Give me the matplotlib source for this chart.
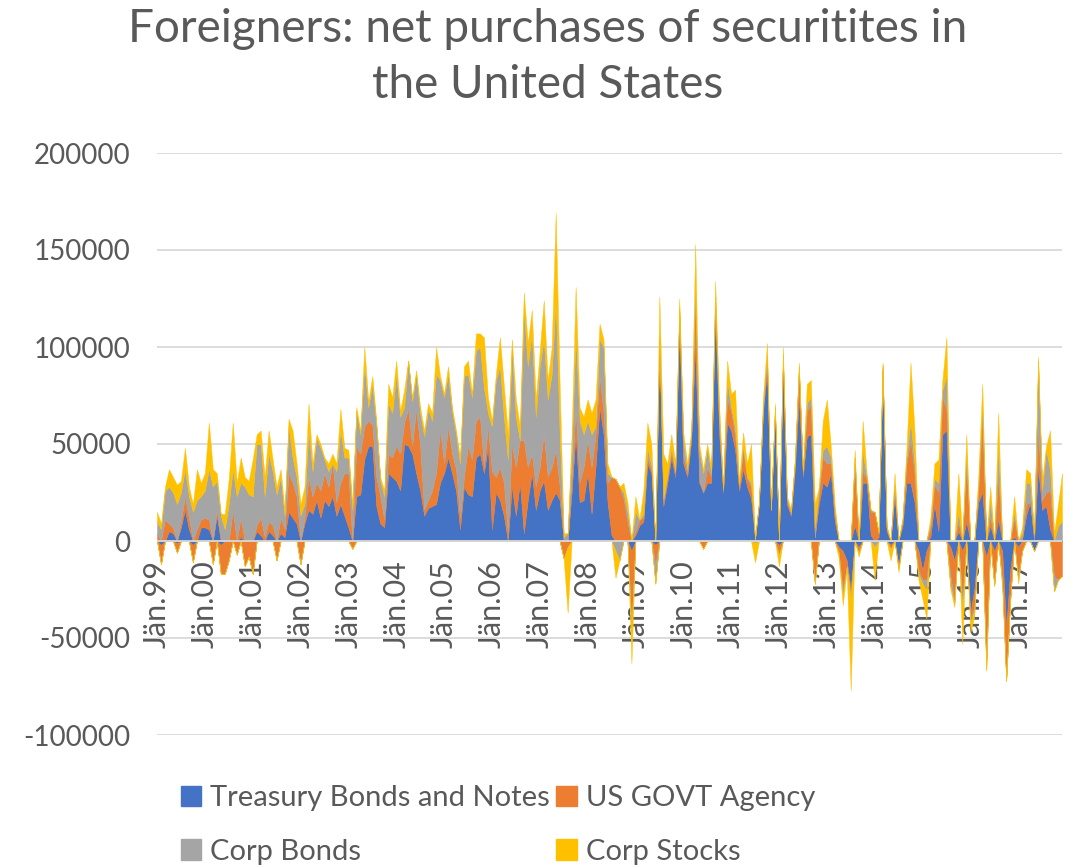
import matplotlib
matplotlib.use("Agg")
import matplotlib.pyplot as plt
from matplotlib.patches import Patch
import numpy as np

# monthly net purchases, thousands of USD mn, Jan 1999 - Dec 2017 (one row per year)
treasury = [
    0, -2, 0, 5, 4, -1, 7, 16, 6, -2, 0, 7,
    7, 6, 0, 13, -2, 0, 0, 0, 0, 2, 0, 0,
    0, 5, 3, 0, 5, 3, 0, 4, 2, 15, 12, 9,
    0, 9, 16, 14, 21, 12, 21, 18, 23, 13, 19, 13,
    7, 0, 23, 24, 42, 49, 49, 18, 9, 7, 35, 33,
    31, 26, 50, 49, 45, 35, 26, 13, 17, 18, 19, 30,
    35, 43, 35, 26, 6, 28, 24, 23, 43, 45, 35, 49,
    6, 25, 21, 13, 0, 28, 13, 30, 4, 21, 35, 16,
    26, 31, 16, 21, 25, 21, 0, 0, 25, 55, 20, 21,
    35, 14, 38, 69, 55, 20, 3, 0, 0, 0, 0, -5,
    3, 8, 10, 40, 35, -2, 100, 18, 30, 43, 33, 112,
    40, 33, 52, 100, 30, 25, 30, 30, 118, 55, 25, 61,
    57, 47, 26, 37, 28, 22, 1, 19, 66, 88, 16, 66,
    -2, 88, 19, 13, 37, 74, 33, 54, 55, 2, 19, 30,
    28, 35, 10, -3, -5, -10, -25, 8, -3, 30, 30, 3,
    0, 2, 88, 5, -2, 23, -12, 8, 30, 30, 20, -5,
    -15, -5, 2, 19, 5, 55, 57, -3, -10, 5, -5, 10,
    -37, -25, 20, 25, -8, 8, -5, 11, -5, -45, -15, 2,
    -3, 1, 13, 20, -5, 38, 16, 18, 6, 0, 0, 0,
]
agency = [
    4, -10, 11, 4, 3, -5, 3, 7, 6, -9, 6, 4,
    5, 5, -12, 3, -15, -17, -10, 16, -7, 10, -13, -8,
    -17, 3, 9, 2, 5, 5, -10, 8, 4, 20, 18, 14,
    -12, 3, 17, 9, 9, 14, 14, 10, 17, 7, 11, 22,
    28, -4, 26, 21, 17, 13, 11, 15, 14, 4, 10, 10,
    18, 19, 11, 19, 4, 33, 23, 3, 4, 8, 16, 27,
    5, 16, 10, 11, 6, 5, 25, 19, 19, 19, 3, 10,
    30, 8, 17, 17, 4, 22, 25, 22, 48, 17, 10, 12,
    12, 24, 17, 17, 22, 7, -9, -3, 5, 14, 10, 17,
    17, 24, 17, 16, 11, 10, 30, 32, 28, 22, 10, -38,
    2, 3, 2, 3, 2, -10, 3, 2, 2, 3, 2, 5,
    4, 2, 2, 26, 2, -4, 8, 3, 5, 5, 1, 12,
    10, 7, 2, 10, 4, 6, 0, 1, 2, 5, 0, 2,
    -5, 6, 2, 1, 3, 14, 2, 13, 15, -22, 5, 13,
    12, 5, 3, -3, -20, -3, -3, 32, -3, 6, 2, 12,
    15, 2, 1, 2, -2, 3, -2, 2, 10, 22, 15, -10,
    -5, -15, 5, 10, 20, 19, 11, -15, -20, 5, -25, 30,
    -3, -9, 5, 40, -55, 5, -18, 23, -15, -27, -15, 10,
    -15, -5, 6, 0, 2, 19, 5, 7, 20, -18, -20, -18,
]
corp_bonds = [
    6, 6, 15, 19, 18, 19, 15, 14, 11, 15, 15, 12,
    14, 26, 28, 15, 13, 6, 19, 21, 23, 18, 28, 24,
    23, 42, 38, 21, 35, 28, 24, 21, 7, 24, 13, 10,
    13, 7, 24, 13, 23, 22, 7, 8, 0, 16, 27, 8,
    8, 16, 18, 10, 32, 7, 21, 27, 8, 12, 26, 23,
    37, 19, 8, 25, 23, 18, 17, 38, 47, 36, 51, 26,
    34, 27, 22, 18, 28, 52, 37, 32, 36, 36, 41, 7,
    23, 50, 52, 34, 38, 50, 26, 0, 67, 52, 62, 36,
    52, 49, 40, 48, 77, 27, 2, 4, 15, 38, 32, 17,
    10, 17, 4, 19, 34, 5, 0, -5, -10, 3, 5, -2,
    10, 0, 2, 5, 2, -10, 2, 2, 2, 2, 1, 3,
    8, 2, 1, 5, 15, 10, 10, 2, 3, 3, 1, 10,
    2, 4, 1, 2, 1, 2, -1, 0, 1, 3, 0, 1,
    0, 2, 1, 1, 1, 2, 1, 4, 4, 5, 2, 4,
    9, 3, 2, 0, -3, 0, -2, 3, 0, 10, 1, 1,
    -3, 0, 2, 0, 0, 3, 0, 1, 3, 10, 5, -2,
    -2, -5, 2, 3, 5, 4, 17, -5, -2, 5, -5, 5,
    -2, -2, 3, 5, -3, 8, 0, 15, -2, 0, -1, 3,
    -2, 3, 11, 10, 1, 36, 5, 22, 11, -8, 8, 10,
]
corp_stocks = [
    5, 3, 2, 9, 8, 10, 6, 11, 5, 4, 16, 7,
    9, 24, 9, 4, 1, 8, 13, 24, 7, 13, 5, 7,
    19, 5, 7, 10, 12, 6, 4, 4, 3, 4, 14, 7,
    6, 9, 14, 4, 2, 2, 1, 4, 5, 4, 11, 5,
    4, 3, 2, 2, 9, 3, 4, 2, 2, 3, 10, 8,
    7, 3, 9, 0, 2, 2, 3, 3, 3, 4, 14, 2,
    2, 4, 2, 2, 3, 5, 7, 2, 9, 7, 26, 8,
    3, 3, 15, 16, 13, 4, 9, 7, 9, 12, 12, 9,
    8, 20, 10, 14, 45, 25, 2, -34, 10, 24, 7, 9,
    11, 11, 14, 8, 4, 5, 0, -14, 0, 5, 5, -18,
    8, 0, 12, 13, 11, 0, 21, 23, 6, 7, 4, 5,
    4, 3, 2, 22, 3, 2, 2, 3, 8, 7, 1, 10,
    7, 20, 1, 7, 7, 20, -10, 1, 5, 6, 1, 2,
    -6, 4, 1, 1, 2, 2, 1, 10, 9, 12, 2, 15,
    24, 6, 3, -3, -5, -2, -47, 4, -2, 16, 2, 0,
    -17, 1, 1, 1, -6, 6, -2, 1, 5, 30, 17, -3,
    -8, -15, 3, 8, 12, 5, 20, -2, -2, 20, -18, 10,
    -5, -3, 5, 11, -1, 7, 0, 17, -2, 0, -1, 8,
    -2, 3, 7, 5, 1, 2, 5, 2, 20, 4, 11, 25,
]

series_names = ["Treasury Bonds and Notes", "US GOVT Agency", "Corp Bonds", "Corp Stocks"]
colors = ["#4472C4", "#ED7D31", "#A5A5A5", "#FFC000"]
year_labels = ["Jän.%02d" % (y % 100) for y in range(1999, 2018)]

text_color = "#595959"
grid_color = "#D9D9D9"
plt.rcParams["font.family"] = ["Lato", "DejaVu Sans"]

values = np.array([treasury, agency, corp_bonds, corp_stocks], dtype=float) * 1000
x = np.arange(values.shape[1])

fig = plt.figure(figsize=(10.76, 8.65), dpi=100)
ax = fig.add_axes([157 / 1076, 1 - 735 / 865, 905 / 1076, 582 / 865])

# positives stack upwards, negatives stack downwards
pos = np.clip(values, 0, None)
neg = np.clip(values, None, 0)
pos_base = np.zeros(len(x))
neg_base = np.zeros(len(x))
for vals_p, vals_n, c in zip(pos, neg, colors):
    ax.fill_between(x, pos_base, pos_base + vals_p, color=c, lw=0.3, ec=c, zorder=2)
    ax.fill_between(x, neg_base, neg_base + vals_n, color=c, lw=0.3, ec=c, zorder=2)
    pos_base = pos_base + vals_p
    neg_base = neg_base + vals_n

for s in ax.spines.values():
    s.set_visible(False)
# axis sits on the zero line (set before the tick labels, it resets them)
ax.spines["bottom"].set_position(("data", 0))

ax.set_xlim(0, len(x) - 1)
ax.set_ylim(-100000, 200000)
ax.set_yticks(np.arange(-100000, 200001, 50000))
ax.set_yticklabels([str(v) for v in range(-100000, 200001, 50000)])
ax.set_xticks(x[::12])
ax.set_xticklabels(year_labels)

ax.grid(axis="y", color=grid_color, lw=1.3, zorder=0)
ax.set_axisbelow(True)
ax.axhline(0, color=grid_color, lw=1.3, zorder=3)
ax.tick_params(axis="both", length=0, colors=text_color, labelsize=20)
ax.tick_params(axis="y", pad=19)
ax.tick_params(axis="x", pad=14, labelrotation=90, labelsize=22)
for lbl in ax.get_xticklabels():
    lbl.set_va("top")
    lbl.set_ha("center")

fig.text(548 / 1076, 1 - 8 / 865,
         "Foreigners: net purchases of securitites in\nthe United States",
         ha="center", va="top", fontsize=33, color=text_color, linespacing=1.42)

handles = [Patch(color=c) for c in colors]
order = [0, 2, 1, 3]
fig.legend([handles[i] for i in order], [series_names[i] for i in order],
           ncol=2, loc="upper left", bbox_to_anchor=(181 / 1076, 1 - 785 / 865),
           frameon=False, fontsize=21, labelcolor=text_color,
           handlelength=0.7, handleheight=0.7, handletextpad=0.3,
           columnspacing=0.22, labelspacing=0.95, borderpad=0, borderaxespad=0)

fig.savefig("out.png", dpi=100)
